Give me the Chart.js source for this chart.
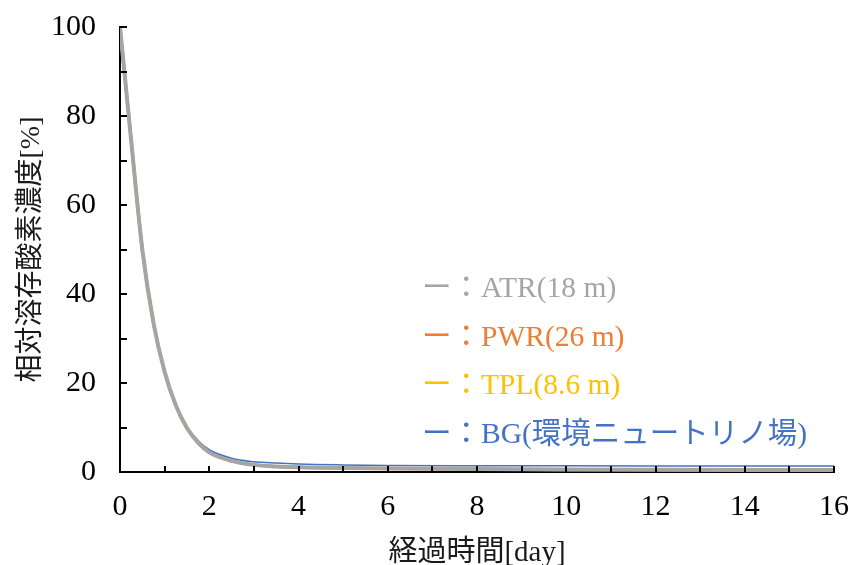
<!DOCTYPE html>
<html lang="ja">
<head>
<meta charset="utf-8">
<title>相対溶存酸素濃度の経時変化</title>
<script src="https://cdn.jsdelivr.net/npm/chart.js@4.4.1/dist/chart.umd.min.js"></script>
<style>
  html, body { margin: 0; padding: 0; background: #ffffff; }
  #wrap { width: 849px; height: 565px; }
</style>
</head>
<body>
<div id="wrap"><canvas id="c" width="849" height="565"></canvas></div>
<script>
// Elapsed time [day]
const days = [0, 0.25, 0.5, 0.75, 1.0, 1.25, 1.5, 1.75, 2.0, 2.5, 3, 3.5, 4, 5, 6, 8, 10, 12, 14, 16];

// Relative dissolved oxygen concentration [%]
const atr = [100, 74.5, 50, 33.5, 22.5, 15, 9.9, 6.6, 4.4, 2.5, 1.6, 1.25, 1.05, 0.9, 0.8, 0.65, 0.55, 0.5, 0.47, 0.45];
const pwr = [100, 74.5, 50, 33.5, 22.5, 15, 9.9, 6.6, 4.4, 2.5, 1.6, 1.25, 1.04, 0.88, 0.78, 0.63, 0.53, 0.48, 0.45, 0.43];
const tpl = [100, 74.5, 50, 33.5, 22.5, 15, 9.9, 6.6, 4.4, 2.5, 1.6, 1.26, 1.07, 0.92, 0.82, 0.68, 0.58, 0.53, 0.5, 0.48];
const bg  = [100, 74.5, 50, 33.5, 22.5, 15.1, 10.2, 7.1, 5.0, 3.1, 2.3, 2.0, 1.8, 1.6, 1.48, 1.42, 1.39, 1.37, 1.36, 1.35];

// Series labels and colours
const seriesNames = ['ATR(18 m)', 'PWR(26 m)', 'TPL(8.6 m)', 'BG(環境ニュートリノ場)'];
const seriesColors = ['#A5A5A5', '#ED7D31', '#FFC000', '#4472C4'];

// Axis ranges and tick spacing
const xMin = 0, xMax = 16, xLabelStep = 2, xMinorStep = 1;
const yMin = 0, yMax = 100, yLabelStep = 20, yMinorStep = 10;

const serif = "'Liberation Serif', 'Times New Roman', 'Noto Sans CJK JP', serif";

const toPoints = (vals) => days.map((d, i) => ({ x: d, y: vals[i] }));

// Inward tick marks on both axes
const innerTicks = {
  id: 'innerTicks',
  afterDatasetsDraw(chart) {
    const { ctx, scales: { x, y } } = chart;
    ctx.save();
    ctx.strokeStyle = '#000';
    ctx.lineWidth = 2;
    ctx.beginPath();
    for (let v = xMin; v <= xMax + 1e-9; v += xMinorStep) {
      const px = Math.round(x.getPixelForValue(v));
      ctx.moveTo(px, y.bottom);
      ctx.lineTo(px, y.bottom - 6);
    }
    for (let v = yMin; v <= yMax + 1e-9; v += yMinorStep) {
      const py = Math.round(y.getPixelForValue(v));
      ctx.moveTo(x.left, py);
      ctx.lineTo(x.left + 7, py);
    }
    ctx.stroke();
    ctx.restore();
  }
};

// Text legend placed inside the plot area
const textLegend = {
  id: 'textLegend',
  afterDraw(chart) {
    const { ctx } = chart;
    ctx.save();
    ctx.font = "29.5px " + serif;
    ctx.textAlign = 'left';
    ctx.textBaseline = 'alphabetic';
    const x0 = 422, y0 = 297, gap = 48.7;
    seriesNames.forEach((name, i) => {
      ctx.fillStyle = seriesColors[i];
      ctx.fillText('ー：' + name, x0, y0 + i * gap);
    });
    ctx.restore();
  }
};

const chart = new Chart(document.getElementById('c'), {
  type: 'line',
  data: {
    datasets: [
      { label: seriesNames[0], data: toPoints(atr), borderColor: seriesColors[0], borderWidth: 4 },
      { label: seriesNames[1], data: toPoints(pwr), borderColor: seriesColors[1], borderWidth: 3 },
      { label: seriesNames[2], data: toPoints(tpl), borderColor: seriesColors[2], borderWidth: 3 },
      { label: seriesNames[3], data: toPoints(bg),  borderColor: seriesColors[3], borderWidth: 1.5 }
    ].map(ds => Object.assign(ds, {
      pointRadius: 0,
      fill: false,
      cubicInterpolationMode: 'monotone'
    }))
  },
  options: {
    responsive: false,
    animation: false,
    devicePixelRatio: 1,
    layout: { autoPadding: false, padding: { left: 0, right: 15, top: 27, bottom: 0 } },
    plugins: {
      legend: { display: false },
      tooltip: { enabled: false }
    },
    scales: {
      x: {
        type: 'linear',
        min: xMin, max: xMax,
        afterFit(scale) {
          scale.height = 93;
          scale.paddingLeft = 0;
          scale.paddingRight = 0;
        },
        border: { color: '#000', width: 2 },
        grid: { display: false, drawTicks: false },
        ticks: { stepSize: xLabelStep, padding: 17, color: '#000', font: { family: serif, size: 30 } },
        title: {
          display: true, text: '経過時間[day]', color: '#1a1a1a',
          font: { family: serif, size: 29 }, padding: { top: 0, bottom: -6 }
        }
      },
      y: {
        type: 'linear',
        min: yMin, max: yMax,
        afterFit(scale) {
          scale.width = 120;
          scale.paddingTop = 0;
          scale.paddingBottom = 0;
        },
        border: { color: '#000', width: 2 },
        grid: { display: false, drawTicks: false },
        ticks: { stepSize: yLabelStep, padding: 24, color: '#000', font: { family: serif, size: 30 } },
        title: {
          display: true, text: '相対溶存酸素濃度[%]', color: '#1a1a1a',
          font: { family: serif, size: 28 }, padding: { top: 15, bottom: 0 }
        }
      }
    }
  },
  plugins: [innerTicks, textLegend]
});
</script>
</body>
</html>
